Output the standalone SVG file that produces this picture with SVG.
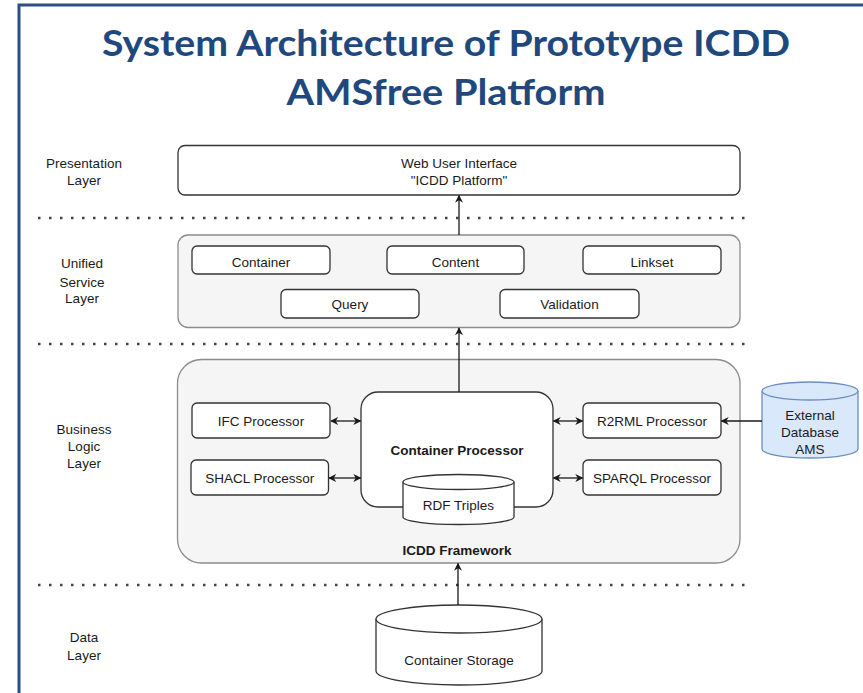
<svg xmlns="http://www.w3.org/2000/svg" width="863" height="693" viewBox="0 0 863 693">
<defs>
<style>
.t{font-family:"Liberation Sans",Arial,sans-serif;font-size:13.5px;fill:#1a1a1a;text-anchor:middle}
.b{font-weight:bold}
.title{font-family:Lato,"Open Sans",sans-serif;font-weight:bold;font-size:37px;fill:#1f497d;text-anchor:middle}
.box{fill:#ffffff;stroke:#333333;stroke-width:1.3}
.layer{fill:#f5f5f5;stroke:#8c8c8c;stroke-width:1.3}
.dots{stroke:#444444;stroke-width:2.5;stroke-dasharray:2.5 8.5;fill:none}
.edge{stroke:#1a1a1a;stroke-width:1.3;fill:none}
.cyl{fill:#ffffff;stroke:#333333;stroke-width:1.3}
.cylb{fill:#dae8fc;stroke:#6c8ebf;stroke-width:1.3}
</style>
<marker id="ah" viewBox="0 0 10 10" refX="9" refY="5" markerWidth="8" markerHeight="8" orient="auto-start-reverse" markerUnits="userSpaceOnUse">
<path d="M0,0 L10,5 L0,10 L3,5 z" fill="#1a1a1a"/>
</marker>
</defs>
<rect width="863" height="693" fill="#ffffff"/>
<g id="frame">
<path d="M19,693 L19,5 L863,5" fill="none" stroke="#2a4e85" stroke-width="3"/>
</g>
<g id="title">
<text class="title" x="446" y="56" textLength="688" lengthAdjust="spacingAndGlyphs">System Architecture of Prototype ICDD</text>
<text class="title" x="446" y="105" textLength="319" lengthAdjust="spacingAndGlyphs">AMSfree Platform</text>
</g>
<g id="layer-labels">
<text class="t" x="84" y="168">Presentation</text>
<text class="t" x="84" y="185">Layer</text>
<text class="t" x="82" y="268">Unified</text>
<text class="t" x="82" y="287">Service</text>
<text class="t" x="82" y="303">Layer</text>
<text class="t" x="84" y="434">Business</text>
<text class="t" x="84" y="451">Logic</text>
<text class="t" x="84" y="468">Layer</text>
<text class="t" x="84" y="642">Data</text>
<text class="t" x="84" y="660">Layer</text>
</g>
<g id="separators">
<line class="dots" x1="38" y1="218" x2="746" y2="218"/>
<line class="dots" x1="38" y1="344" x2="746" y2="344"/>
<line class="dots" x1="38" y1="585" x2="746" y2="585"/>
</g>
<g id="web-ui">
<rect class="box" x="178" y="145.5" width="562" height="49.5" rx="7"/>
<text class="t" x="459" y="168">Web User Interface</text>
<text class="t" x="459" y="185">"ICDD Platform"</text>
</g>
<g id="unified-service-layer">
<rect class="layer" x="178" y="235" width="562" height="92.5" rx="10"/>
</g>
<g id="container-service">
<rect class="box" x="192" y="246" width="138" height="28" rx="5"/>
<text class="t" x="261" y="267">Container</text>
</g>
<g id="content-service">
<rect class="box" x="387" y="246" width="137" height="28" rx="5"/>
<text class="t" x="455.5" y="267">Content</text>
</g>
<g id="linkset-service">
<rect class="box" x="583" y="246" width="138" height="28" rx="5"/>
<text class="t" x="652" y="267">Linkset</text>
</g>
<g id="query-service">
<rect class="box" x="281" y="289.5" width="138" height="28.5" rx="5"/>
<text class="t" x="350" y="309">Query</text>
</g>
<g id="validation-service">
<rect class="box" x="500" y="289.5" width="139" height="28.5" rx="5"/>
<text class="t" x="569.5" y="309">Validation</text>
</g>
<g id="business-logic-layer">
<rect class="layer" x="177.5" y="359.5" width="562.5" height="203.5" rx="24"/>
<text class="t b" x="457" y="555" fill="#333333">ICDD Framework</text>
</g>
<g id="container-processor">
<rect class="box" x="361" y="392" width="192" height="115" rx="17"/>
<text class="t b" x="457" y="455">Container Processor</text>
</g>
<g id="rdf-triples">
<path class="cyl" d="M403,482 L403,517 A55.5,7.5 0 0 0 514,517 L514,482 A55.5,7.5 0 0 0 403,482 Z"/>
<path class="cyl" d="M403,482 A55.5,7.5 0 0 0 514,482" fill="none"/>
<text class="t" x="458.5" y="510">RDF Triples</text>
</g>
<g id="ifc-processor">
<rect class="box" x="192" y="403" width="138" height="35" rx="5"/>
<text class="t" x="261" y="426">IFC Processor</text>
</g>
<g id="shacl-processor">
<rect class="box" x="191" y="460" width="137.5" height="35" rx="5"/>
<text class="t" x="259.75" y="483">SHACL Processor</text>
</g>
<g id="r2rml-processor">
<rect class="box" x="583" y="403" width="138" height="35" rx="5"/>
<text class="t" x="652" y="426">R2RML Processor</text>
</g>
<g id="sparql-processor">
<rect class="box" x="583" y="460" width="138" height="35" rx="5"/>
<text class="t" x="652" y="483">SPARQL Processor</text>
</g>
<g id="external-database">
<path class="cylb" d="M762,391 L762,449 A48,9 0 0 0 858,449 L858,391 A48,9 0 0 0 762,391 Z"/>
<path class="cylb" d="M762,391 A48,9 0 0 0 858,391" fill="none"/>
<text class="t" x="810" y="420">External</text>
<text class="t" x="810" y="437">Database</text>
<text class="t" x="810" y="454">AMS</text>
</g>
<g id="container-storage">
<path class="cyl" d="M376,619 L376,671 A83,14 0 0 0 542,671 L542,619 A83,14 0 0 0 376,619 Z"/>
<path class="cyl" d="M376,619 A83,14 0 0 0 542,619" fill="none"/>
<text class="t" x="459" y="665">Container Storage</text>
</g>
<g id="connectors">
<line class="edge" x1="459" y1="235" x2="459" y2="195.5" marker-end="url(#ah)"/>
<line class="edge" x1="459" y1="392" x2="459" y2="328" marker-end="url(#ah)"/>
<line class="edge" x1="458" y1="605" x2="458" y2="563.5" marker-end="url(#ah)"/>
<line class="edge" x1="331" y1="421" x2="360.5" y2="421" marker-start="url(#ah)" marker-end="url(#ah)"/>
<line class="edge" x1="329" y1="478" x2="360.5" y2="478" marker-start="url(#ah)" marker-end="url(#ah)"/>
<line class="edge" x1="553.5" y1="421" x2="582.5" y2="421" marker-start="url(#ah)" marker-end="url(#ah)"/>
<line class="edge" x1="553.5" y1="478" x2="582.5" y2="478" marker-start="url(#ah)" marker-end="url(#ah)"/>
<line class="edge" x1="762" y1="421" x2="721.5" y2="421" marker-end="url(#ah)"/>
</g>
</svg>
